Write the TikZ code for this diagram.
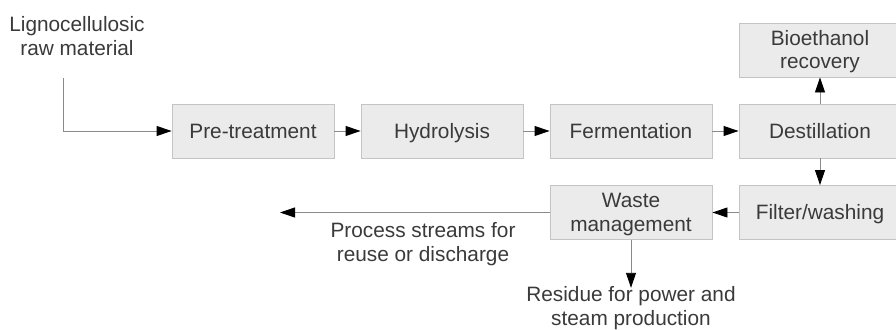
\documentclass[tikz,border=0pt]{standalone}
\usepackage{fontspec}
\setmainfont{Liberation Sans}
\usetikzlibrary{arrows.meta}
\definecolor{boxfill}{HTML}{EBEBEB}
\definecolor{boxline}{HTML}{C4C4C4}
\definecolor{conn}{HTML}{8A8A8A}
\definecolor{txt}{HTML}{3A3A3A}
\newcommand\lnstrut{\rule[-5pt]{0pt}{24pt}}
\begin{document}
\begin{tikzpicture}[x=1pt,y=-1pt,
  font=\fontsize{20.8}{24}\selectfont,
  every node/.style={text=txt, align=center, inner sep=0pt},
  stagebox/.style={draw=boxline, fill=boxfill, line width=0.9pt, minimum width=162pt, minimum height=54pt},
  flow/.style={draw=conn, line width=0.9pt, -{Triangle[length=15pt,width=10pt,color=black]}}]
\useasboundingbox (0,0) rectangle (896,329);
\clip (0,0) rectangle (896,329);
\node[stagebox] (pre) at (253,131) {\lnstrut Pre-treatment};
\node[stagebox] (hyd) at (442,131) {\lnstrut Hydrolysis};
\node[stagebox] (fer) at (631,131) {\lnstrut Fermentation};
\node[stagebox] (des) at (820,131) {\lnstrut Destillation};
\node[stagebox] (bio) at (820,50) {\lnstrut Bioethanol\\\lnstrut recovery};
\node[stagebox] (fil) at (820,212.5) {\lnstrut Filter/washing};
\node[stagebox] (was) at (631,212.5) {\lnstrut Waste\\\lnstrut management};
\node (raw) at (77,36.5) {\lnstrut Lignocellulosic\\\lnstrut raw material};
\coordinate (rawout) at (63,78);
\coordinate (streamend) at (280,212.5);
\node (streams) at (423,242.5) {\lnstrut Process streams for\\\lnstrut reuse or discharge};
\node (residue) at (631,306.5) {\lnstrut Residue for power and\\\lnstrut steam production};
\draw[flow] (rawout) |- (pre.west);
\draw[flow] (pre) -- (hyd);
\draw[flow] (hyd) -- (fer);
\draw[flow] (fer) -- (des);
\draw[flow] (des) -- (bio);
\draw[flow] (des) -- (fil);
\draw[flow] (fil) -- (was);
\draw[flow] (was) -- (streamend);
\draw[flow] (was.south) -- ([yshift=-5.5pt]residue.north);
\end{tikzpicture}
\end{document}
